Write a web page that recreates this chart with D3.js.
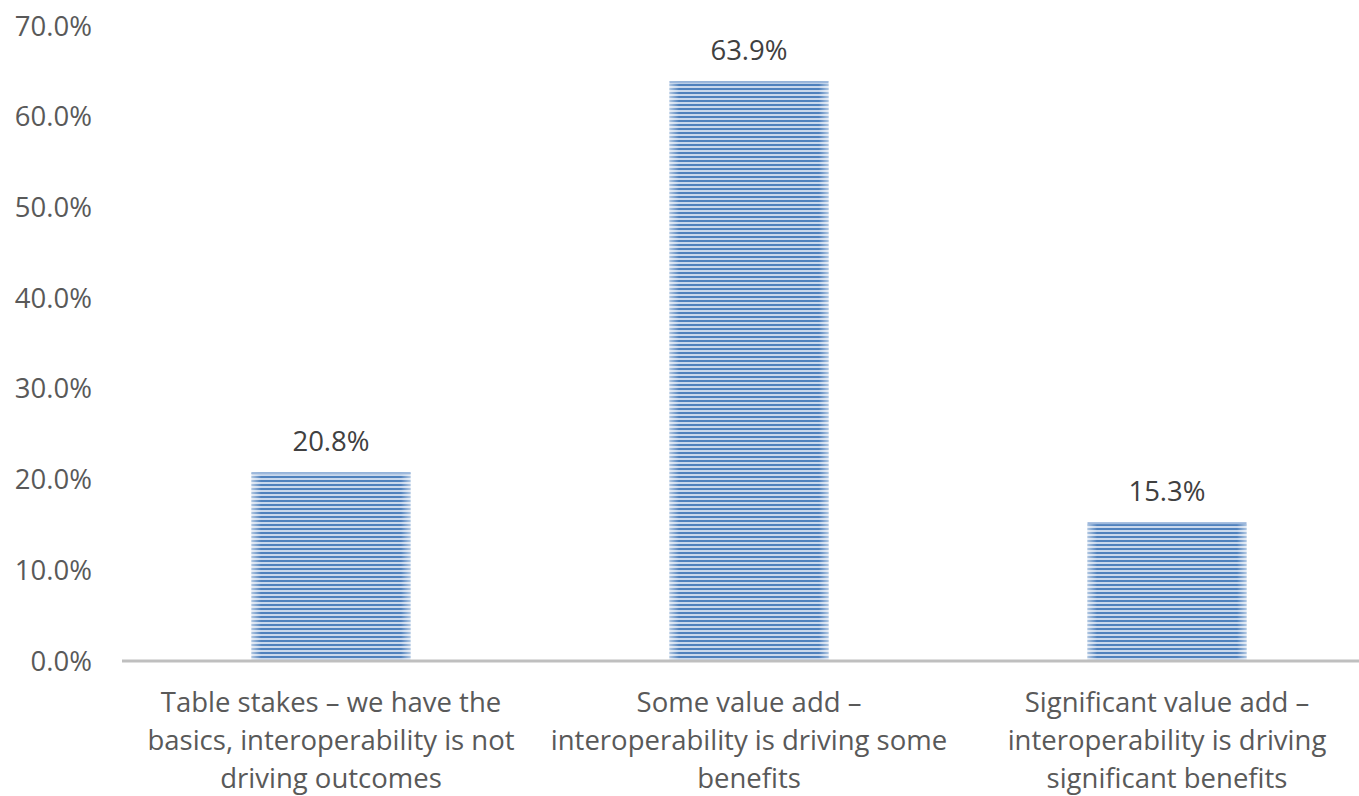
<!DOCTYPE html>
<html><head><meta charset="utf-8">
<script src="https://cdn.jsdelivr.net/npm/d3@7"></script>
<style>body{margin:0;background:#fff;}</style>
</head><body>
<svg id="c" width="1359" height="796"></svg>
<script>
const categories = [
  ["Table stakes – we have the", "basics, interoperability is not", "driving outcomes"],
  ["Some value add –", "interoperability is driving some", "benefits"],
  ["Significant value add –", "interoperability is driving", "significant benefits"]
];
const values = [20.8, 63.9, 15.3];
const tickValues = [0, 10, 20, 30, 40, 50, 60, 70];

const svg = d3.select("#c");
const font = "Open Sans, sans-serif";
const textColor = "#595959";
const fs = 27.5;
const x = d3.scaleBand().domain(d3.range(values.length)).range([122, 1376]).paddingInner(0.62).paddingOuter(0.31);
const y = d3.scaleLinear().domain([0, 70]).range([661, 26]);

const defs = svg.append("defs");
const pat = defs.append("pattern").attr("id", "stripes").attr("patternUnits", "userSpaceOnUse")
  .attr("width", 8).attr("height", 4);
pat.append("rect").attr("width", 8).attr("height", 4).attr("fill", "#c9d8ec");
pat.append("rect").attr("y", 0).attr("width", 8).attr("height", 2).attr("fill", "#4f81bd");
const grad = defs.append("linearGradient").attr("id", "edge").attr("x1", 0).attr("x2", 1);
[[0, 0.55], [0.06, 0], [0.94, 0], [1, 0.55]].forEach(([o, a]) =>
  grad.append("stop").attr("offset", o).attr("stop-color", "#ffffff").attr("stop-opacity", a));

// y axis labels
svg.append("g").selectAll("text").data(tickValues).join("text")
  .attr("x", 92).attr("y", d => y(d)).attr("dy", "0.35em")
  .attr("text-anchor", "end").attr("font-family", font).attr("font-size", fs)
  .attr("fill", textColor).text(d => d.toFixed(1) + "%");

// bars
const bars = svg.append("g");
bars.selectAll("rect.b").data(values).join("rect").attr("class", "b")
  .attr("x", (d, i) => x(i)).attr("width", x.bandwidth())
  .attr("y", d => y(d)).attr("height", d => y(0) - y(d))
  .attr("fill", "url(#stripes)");
bars.selectAll("rect.e").data(values).join("rect").attr("class", "e")
  .attr("x", (d, i) => x(i)).attr("width", x.bandwidth())
  .attr("y", d => y(d)).attr("height", d => y(0) - y(d))
  .attr("fill", "url(#edge)");
bars.selectAll("rect.t").data(values).join("rect").attr("class", "t")
  .attr("x", (d, i) => x(i)).attr("width", x.bandwidth())
  .attr("y", d => y(d)).attr("height", 2)
  .attr("fill", "#9db8dc");

// data labels
svg.append("g").selectAll("text").data(values).join("text")
  .attr("x", (d, i) => x(i) + x.bandwidth() / 2).attr("y", d => y(d) - 21)
  .attr("text-anchor", "middle").attr("font-family", font).attr("font-size", fs)
  .attr("fill", "#404040").text(d => d.toFixed(1) + "%");

// axis line
svg.append("line").attr("x1", 122).attr("x2", 1359).attr("y1", y(0)).attr("y2", y(0))
  .attr("stroke", "#bfbfbf").attr("stroke-width", 3);

// category labels
const cat = svg.append("g").selectAll("text").data(categories).join("text")
  .attr("text-anchor", "middle").attr("font-family", font).attr("font-size", fs)
  .attr("fill", textColor);
cat.each(function (lines, i) {
  d3.select(this).selectAll("tspan").data(lines).join("tspan")
    .attr("x", x(i) + x.bandwidth() / 2).attr("y", (d, j) => 712 + j * 38).text(d => d);
});
</script>
</body></html>
